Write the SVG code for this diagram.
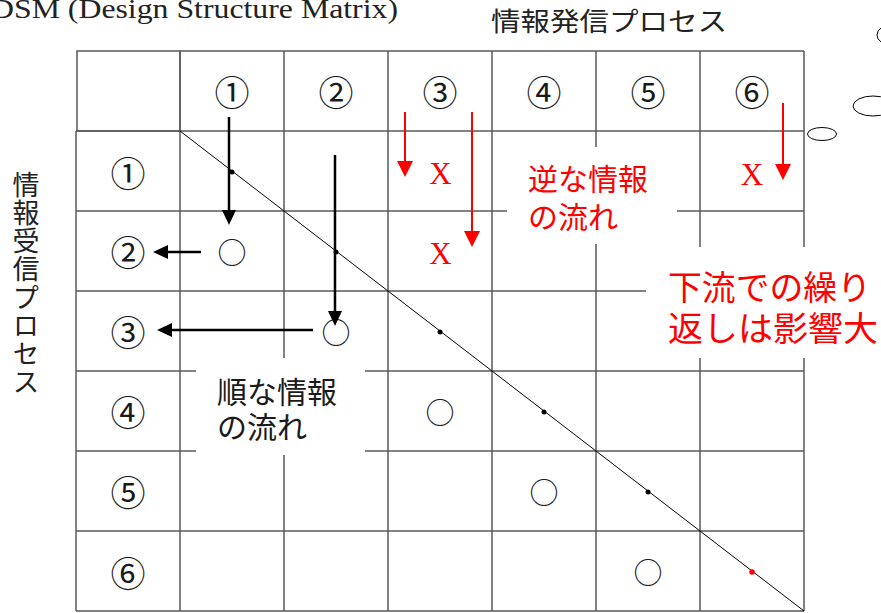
<svg xmlns="http://www.w3.org/2000/svg" width="881" height="613" viewBox="0 0 881 613">
<style>
.bg{fill:#fff}
.grid{stroke:#5a5a5a;stroke-width:1.5;fill:none}
.diag{stroke:#000;stroke-width:1;fill:none}
.jp{font-family:"Noto Sans CJK JP","Liberation Serif",serif}
.num{font-family:"Noto Sans CJK JP","DejaVu Sans",sans-serif;font-size:35px;fill:#1a1a1a;text-anchor:middle}
.mark{font-family:"Noto Sans CJK JP",sans-serif;font-size:29px;fill:#1a1a1a;text-anchor:middle}
.x{font-family:"Liberation Serif",serif;font-size:31px;fill:#ff0000;text-anchor:middle}
.blk{stroke:#000;stroke-width:2.5;fill:none}
.red{stroke:#ff0000;stroke-width:2;fill:none}
.oval{stroke:#000;stroke-width:1;fill:none}
.box{fill:#fff;stroke:none}
</style>
<defs>
<marker id="ahB" markerUnits="userSpaceOnUse" markerWidth="16" markerHeight="15" refX="10" refY="7" orient="auto"><path d="M0,0 L15,7 L0,14 z" fill="#000"/></marker>
<marker id="ahR" markerUnits="userSpaceOnUse" markerWidth="17" markerHeight="17" refX="11" refY="8" orient="auto"><path d="M0,0 L16,8 L0,16 z" fill="#ff0000"/></marker>
</defs>
<rect class="bg" x="0" y="0" width="881" height="613"/>

<text x="-9" y="18" font-family="Liberation Serif, serif" font-size="28" fill="#222" textLength="407" lengthAdjust="spacingAndGlyphs">DSM (Design Structure Matrix)</text>
<text class="jp" x="491" y="31" font-size="26" fill="#222" textLength="236" lengthAdjust="spacingAndGlyphs">情報発信プロセス</text>
<text class="jp" x="26" y="171" font-size="27" fill="#222" writing-mode="vertical-rl" letter-spacing="1.2">情報受信プロセス</text>

<g id="matrix">
<rect class="grid" x="77" y="51" width="103" height="80" stroke="#333"/>
<path class="grid" d="M180,51H804 M76,131H804 M76,211H804 M76,291H804 M76,371H804 M76,451H804 M76,531H804 M76,611H804 M76,131V611 M180,51V611 M284,51V611 M388,51V611 M492,51V611 M596,51V611 M700,51V611 M804,51V611"/>
<path class="diag" d="M180,131L804,611"/>
<g fill="#000"><circle cx="232" cy="172" r="2.5"/><circle cx="336" cy="252" r="2.5"/><circle cx="440" cy="332" r="2.5"/><circle cx="544" cy="412" r="2.5"/><circle cx="648" cy="492" r="2.5"/></g>
<circle cx="752" cy="572" r="2.8" fill="#ff0000"/>
</g>

<g id="col-headers">
<text class="num" x="232" y="106">①</text>
<text class="num" x="336" y="106">②</text>
<text class="num" x="440" y="106">③</text>
<text class="num" x="544" y="106">④</text>
<text class="num" x="648" y="106">⑤</text>
<text class="num" x="752" y="106">⑥</text>
</g>
<g id="row-headers">
<text class="num" x="128" y="187">①</text>
<text class="num" x="128" y="266">②</text>
<text class="num" x="128" y="346">③</text>
<text class="num" x="128" y="426">④</text>
<text class="num" x="128" y="506">⑤</text>
<text class="num" x="128" y="587">⑥</text>
</g>
<g id="marks">
<text class="mark" x="232" y="264">○</text>
<text class="mark" x="336" y="344">○</text>
<text class="mark" x="440" y="424">○</text>
<text class="mark" x="544" y="504">○</text>
<text class="mark" x="648" y="584">○</text>
<text class="x" x="440.5" y="184">X</text>
<text class="x" x="440.5" y="264">X</text>
<text class="x" x="752" y="185">X</text>
</g>

<g id="label-reverse">
<rect class="box" x="507" y="147" width="170" height="97"/>
<text class="jp" font-size="30" fill="#ff0000"><tspan x="528" y="190">逆な情報</tspan><tspan x="528" y="228">の流れ</tspan></text>
</g>
<g id="label-downstream">
<rect class="box" x="646" y="247" width="235" height="111"/>
<text class="jp" font-size="34" fill="#ff0000"><tspan x="668" y="300" textLength="203" lengthAdjust="spacingAndGlyphs">下流での繰り</tspan><tspan x="668" y="341" textLength="210" lengthAdjust="spacingAndGlyphs">返しは影響大</tspan></text>
</g>
<g id="label-forward">
<rect class="box" x="196" y="358" width="169" height="97"/>
<text class="jp" font-size="30" fill="#1a1a1a"><tspan x="217" y="403">順な情報</tspan><tspan x="217" y="438">の流れ</tspan></text>
</g>

<g id="ovals">
<ellipse class="oval" cx="822" cy="134" rx="14.5" ry="6.5"/>
<ellipse class="oval" cx="873" cy="106" rx="20" ry="10"/>
<ellipse class="oval" cx="891" cy="35" rx="14" ry="10"/>
</g>

<g id="connectors">
<line class="blk" x1="229" y1="117" x2="229" y2="220" marker-end="url(#ahB)"/>
<line class="blk" x1="335" y1="155" x2="335" y2="321" marker-end="url(#ahB)"/>
<line class="blk" x1="201" y1="252" x2="158" y2="252" marker-end="url(#ahB)"/>
<line class="blk" x1="313" y1="330" x2="162" y2="330" marker-end="url(#ahB)"/>
<line class="red" x1="405" y1="112" x2="405" y2="172" marker-end="url(#ahR)"/>
<line class="red" x1="472" y1="112" x2="472" y2="242" marker-end="url(#ahR)"/>
<line class="red" x1="783" y1="103" x2="783" y2="175" marker-end="url(#ahR)"/>
</g>
</svg>
